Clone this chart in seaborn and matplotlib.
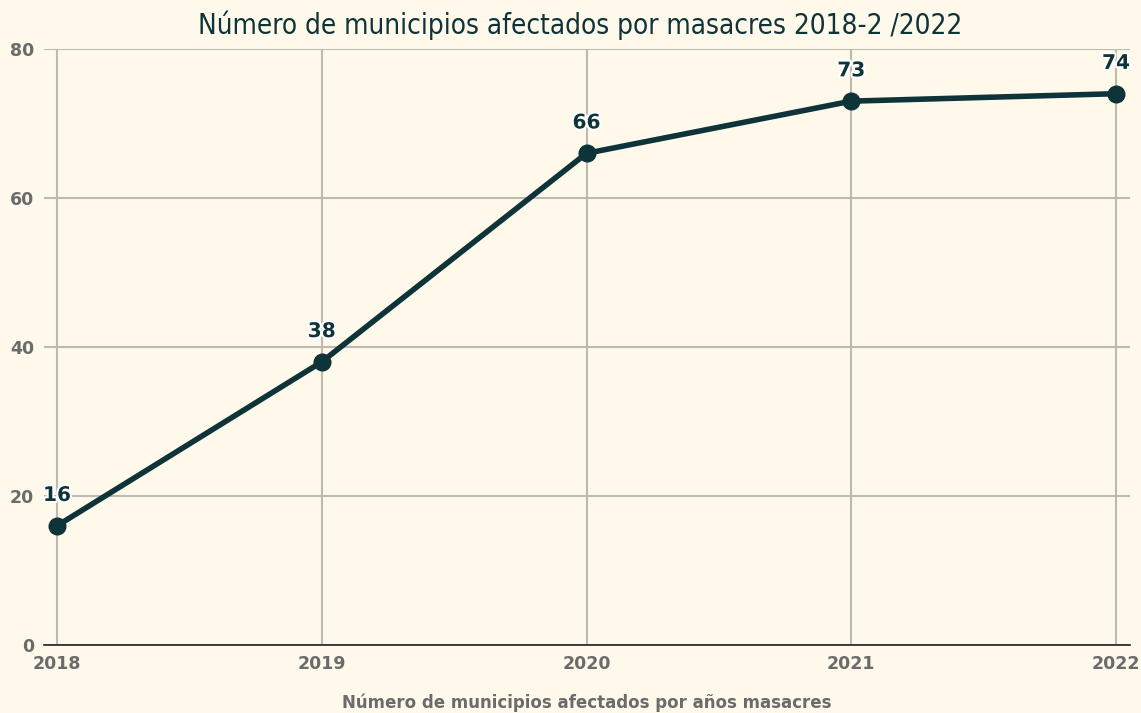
import matplotlib
matplotlib.use("Agg")
import matplotlib.pyplot as plt
import matplotlib.patheffects as pe
import seaborn as sns
import pandas as pd

# Data
years = [2018, 2019, 2020, 2021, 2022]
municipios = [16, 38, 66, 73, 74]
y_ticks = [0, 20, 40, 60, 80]

df = pd.DataFrame({"year": years, "municipios": municipios})

bg = "#FFF9EC"
line_color = "#0E3338"
grid_color = "#BDBAB2"
tick_color = "#6B6B6B"

sns.set_theme(style="whitegrid")
plt.rcParams["font.family"] = ["DejaVu Sans"]

fig = plt.figure(figsize=(11.41, 7.13), dpi=100, facecolor=bg)
ax = fig.add_axes([44 / 1141, 1 - 645 / 713, (1130 - 44) / 1141, (645 - 49) / 713])
ax.set_facecolor(bg)

sns.lineplot(data=df, x="year", y="municipios", ax=ax, color=line_color,
             linewidth=4, marker="o", markersize=13, markeredgewidth=0, zorder=3)

for x, y in zip(years, municipios):
    ax.annotate(str(y), (x, y), xytext=(0, 15), textcoords="offset points",
                ha="center", va="bottom", fontsize=14.5, fontweight="bold",
                color=line_color, zorder=4,
                path_effects=[pe.withStroke(linewidth=3, foreground="white")])

ax.set_xlim(2018 - 13 / 264.75, 2022 + 14 / 264.75)
ax.set_ylim(0, 80)
ax.set_xticks(years)
ax.set_yticks(y_ticks)
ax.grid(True, color=grid_color, linewidth=1.5)
for s in ["top", "right", "left"]:
    ax.spines[s].set_visible(False)
ax.spines["bottom"].set_visible(True)
ax.spines["bottom"].set_color("#222222")
ax.spines["bottom"].set_linewidth(1.2)
ax.spines["bottom"].set_zorder(2)

ax.tick_params(axis="both", length=0, labelsize=12.5, labelcolor=tick_color)
ax.tick_params(axis="x", pad=7)
ax.tick_params(axis="y", pad=7)
for lbl in ax.get_xticklabels() + ax.get_yticklabels():
    lbl.set_fontweight("bold")

ax.set_xlabel("Número de municipios afectados por años masacres", fontsize=12,
              fontweight="bold", color=tick_color, labelpad=15)
ax.set_ylabel("")

fig.text(0.508, 0.965, "Número de municipios afectados por masacres 2018-2 /2022",
         ha="center", va="center", fontsize=20, color=line_color,
         fontstretch="condensed")

fig.savefig("out.png", dpi=100, facecolor=bg)
